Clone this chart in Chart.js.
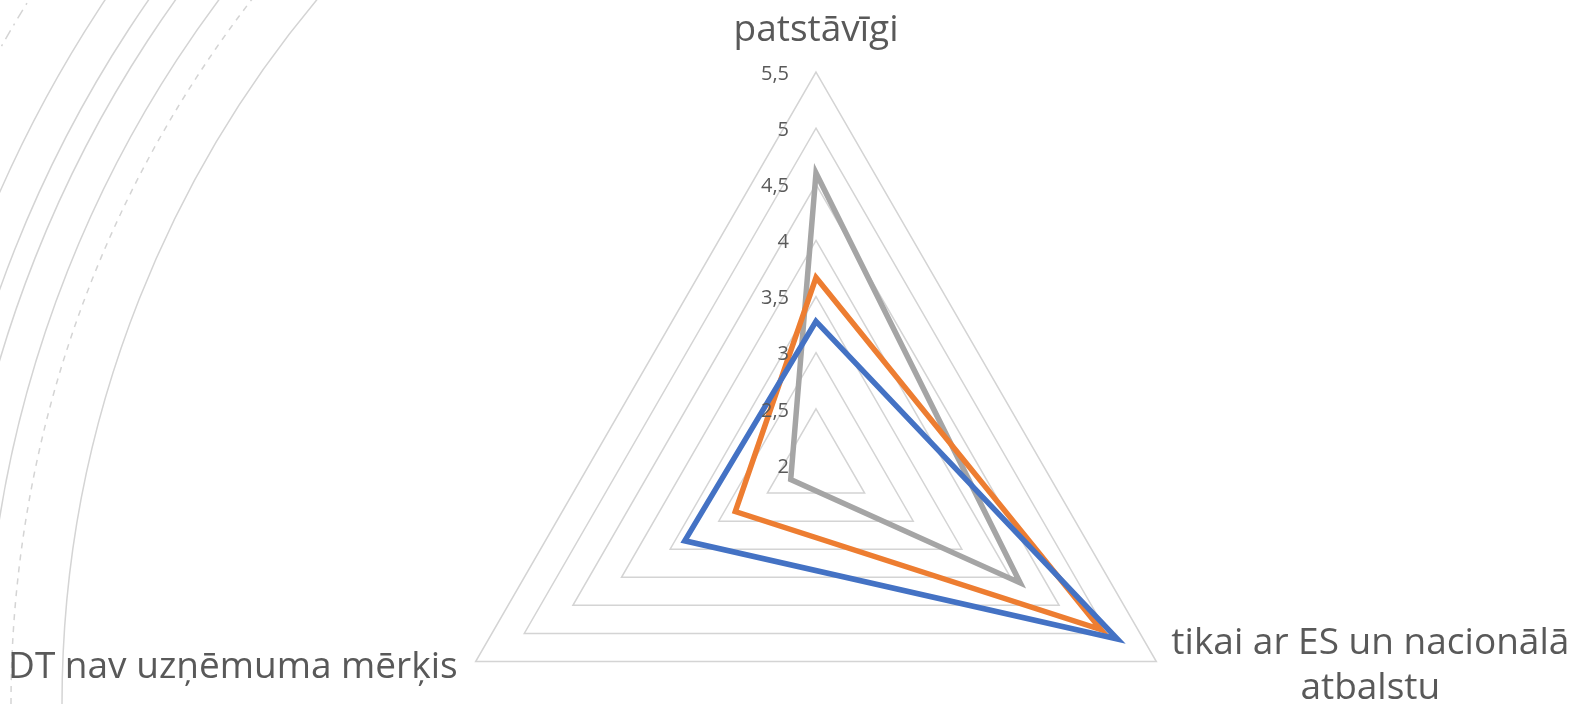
<!DOCTYPE html>
<html>
<head>
<meta charset="utf-8">
<script src="https://cdn.jsdelivr.net/npm/chart.js@4/dist/chart.umd.min.js"></script>
<style>
  html, body { margin: 0; padding: 0; background: #fff; overflow: hidden; }
  canvas { display: block; }
</style>
</head>
<body>
<canvas id="radar" width="1578" height="716"></canvas>
<script>
// categories (axes of the radar)
const categories = ['patstāvīgi', ['tikai ar ES un nacionālā', 'atbalstu'], 'DT nav uzņēmuma mērķis'];

// series values
const blueValues = [3.28, 5.10, 3.35];
const orangeValues = [3.67, 4.93, 2.83];
const grayValues = [4.60, 4.10, 2.26];

// radial axis ticks
const tickValues = [2, 2.5, 3, 3.5, 4, 4.5, 5, 5.5];
const tickLabels = ['2', '2,5', '3', '3,5', '4', '4,5', '5', '5,5'];

const textColor = '#595959';
const gridColor = '#d4d4d4';
const fontFamily = '"Open Sans", "Noto Sans", sans-serif';

// background decoration: concentric arcs on the left side of the slide
const decoArcs = [
    { r: 1100, dash: [] },
    { r: 1151, dash: [6, 6] },
    { r: 1177, dash: [] },
    { r: 1212, dash: [] },
    { r: 1234, dash: [] },
    { r: 1270, dash: [] },
    { r: 1334, dash: [10, 6, 2, 6] }
];

const backgroundArcs = {
    id: 'backgroundArcs',
    beforeDraw(chart) {
        const ctx = chart.ctx;
        ctx.save();
        ctx.strokeStyle = gridColor;
        ctx.lineWidth = 1.5;
        decoArcs.forEach(a => {
            ctx.setLineDash(a.dash);
            ctx.beginPath();
            ctx.arc(1162, 704, a.r, Math.PI, Math.PI * 1.5);
            ctx.stroke();
        });
        ctx.restore();
    }
};

// tick labels to the left of the vertical axis, category labels outside the vertices
const radarText = {
    id: 'radarText',
    afterDraw(chart) {
        const ctx = chart.ctx;
        const scale = chart.scales.r;
        ctx.save();
        ctx.fillStyle = textColor;

        ctx.font = '20px ' + fontFamily;
        ctx.textAlign = 'right';
        ctx.textBaseline = 'middle';
        tickValues.forEach((v, i) => {
            const d = scale.getDistanceFromCenterForValue(v);
            ctx.fillText(tickLabels[i], scale.xCenter - 27, scale.yCenter - d + 2);
        });

        ctx.font = '37px ' + fontFamily;
        ctx.textBaseline = 'middle';
        const edge = scale.drawingArea;

        // top
        let p = scale.getPointPosition(0, edge);
        ctx.textAlign = 'center';
        ctx.fillText(categories[0], p.x, p.y - 42);

        // right (wrapped, centered lines)
        p = scale.getPointPosition(1, edge);
        const lines = categories[1];
        const w = Math.max(...lines.map(l => ctx.measureText(l).width));
        const cx = p.x + 15 + w / 2;
        lines.forEach((l, i) => ctx.fillText(l, cx, p.y - 18 + i * 45));

        // left
        p = scale.getPointPosition(2, edge);
        ctx.textAlign = 'right';
        ctx.fillText(categories[2], p.x - 18, p.y + 6);

        ctx.restore();
    }
};

const lineStyle = { borderWidth: 5.5, pointRadius: 0, fill: false, tension: 0, clip: false, borderJoinStyle: 'miter' };

new Chart(document.getElementById('radar'), {
    type: 'radar',
    data: {
        labels: categories,
        datasets: [
            Object.assign({ label: 'blue', data: blueValues, borderColor: '#4472c4' }, lineStyle),
            Object.assign({ label: 'orange', data: orangeValues, borderColor: '#ed7d31' }, lineStyle),
            Object.assign({ label: 'gray', data: grayValues, borderColor: '#a5a5a5' }, lineStyle)
        ]
    },
    options: {
        responsive: false,
        animation: false,
        devicePixelRatio: 1,
        plugins: {
            legend: { display: false },
            tooltip: { enabled: false }
        },
        scales: {
            r: {
                min: 2,
                max: 5.5,
                ticks: { stepSize: 0.5, display: false },
                grid: { color: gridColor, lineWidth: 1.5, circular: false },
                angleLines: { display: false },
                pointLabels: { display: false },
                afterFit(scale) {
                    scale.xCenter = 816;
                    scale.yCenter = 465;
                    scale.drawingArea = 393;
                }
            }
        }
    },
    plugins: [backgroundArcs, radarText]
});
</script>
</body>
</html>
